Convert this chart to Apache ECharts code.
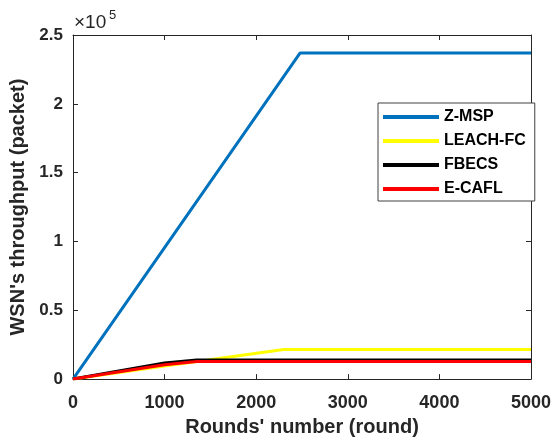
<!DOCTYPE html>
<html>
<head>
<meta charset="utf-8">
<script src="https://cdn.jsdelivr.net/npm/echarts@6/dist/echarts.min.js"></script>
<style>
  html, body { margin: 0; padding: 0; background: #fff; }
  #throughput-chart { width: 554px; height: 442px; }
</style>
</head>
<body>
<div id="throughput-chart"></div>
<script>
  // series names (legend order)
  var seriesNames = ['Z-MSP', 'LEACH-FC', 'FBECS', 'E-CAFL'];
  var seriesColors = ['#0072BD', '#FFFF00', '#000000', '#FF0000'];

  // breakpoints: rounds / throughput (packets)
  var zmspRounds = [0, 2480, 5000];
  var zmspValues = [0, 237000, 237000];
  var leachRounds = [0, 1000, 2300, 5000];
  var leachValues = [0, 9500, 21500, 21500];
  var fbecsRounds = [0, 1000, 1350, 5000];
  var fbecsValues = [0, 11700, 13800, 13800];
  var ecaflRounds = [0, 1000, 1350, 5000];
  var ecaflValues = [0, 10500, 12800, 12800];

  var xTickLabels = ['0', '1000', '2000', '3000', '4000', '5000'];
  var yTickLabels = ['0', '0.5', '1', '1.5', '2', '2.5'];

  var font = "'Liberation Sans', Arial, sans-serif";
  var axisColor = '#262626';

  function pairs(xs, ys) {
    return xs.map(function (x, i) { return [x, ys[i]]; });
  }

  var allData = [
    pairs(zmspRounds, zmspValues),
    pairs(leachRounds, leachValues),
    pairs(fbecsRounds, fbecsValues),
    pairs(ecaflRounds, ecaflValues)
  ];

  var chart = echarts.init(document.getElementById('throughput-chart'));

  var boxAxis = {
    min: 0,
    axisLine: { show: true, onZero: false, lineStyle: { color: axisColor, width: 1 } },
    axisTick: { show: true, inside: true, length: 5, lineStyle: { color: axisColor, width: 1 } },
    splitLine: { show: false }
  };

  var option = {
    animation: false,
    backgroundColor: '#fff',
    grid: { left: 73, right: 19, top: 35, bottom: 59 },
    graphic: [
      {
        type: 'text', left: 74, top: 13,
        style: { text: '×10', fontFamily: font, fontSize: 19, fill: axisColor }
      },
      {
        type: 'text', left: 109, top: 9,
        style: { text: '5', fontFamily: font, fontSize: 13, fill: axisColor }
      }
    ],
    legend: {
      orient: 'vertical',
      left: 378,
      top: 103,
      padding: [6, 9, 4, 5],
      itemGap: 8,
      itemWidth: 56,
      itemHeight: 4,
      icon: 'rect',
      borderColor: '#404040',
      borderWidth: 1,
      backgroundColor: '#fff',
      data: seriesNames,
      textStyle: { fontFamily: font, fontSize: 16, fontWeight: 'bold', color: '#000', lineHeight: 16 }
    },
    xAxis: [
      Object.assign({}, boxAxis, {
        type: 'value',
        max: 5000,
        interval: 1000,
        position: 'bottom',
        name: "Rounds' number (round)",
        nameLocation: 'middle',
        nameGap: 37,
        nameTextStyle: { fontFamily: font, fontSize: 20, fontWeight: 'bold', color: axisColor },
        axisLabel: {
          margin: 15, fontFamily: font, fontSize: 18, fontWeight: 'bold', color: axisColor,
          formatter: function (v, i) { return xTickLabels[i]; }
        }
      }),
      Object.assign({}, boxAxis, {
        type: 'value',
        max: 5000,
        interval: 1000,
        position: 'top',
        axisLabel: { show: false }
      })
    ],
    yAxis: [
      Object.assign({}, boxAxis, {
        type: 'value',
        max: 250000,
        interval: 50000,
        position: 'left',
        name: "WSN's throughput (packet)",
        nameLocation: 'middle',
        nameGap: 40,
        nameTextStyle: { fontFamily: font, fontSize: 20, fontWeight: 'bold', color: axisColor },
        axisLabel: {
          margin: 10, fontFamily: font, fontSize: 17, fontWeight: 'bold', color: axisColor,
          formatter: function (v, i) { return yTickLabels[i]; }
        }
      }),
      Object.assign({}, boxAxis, {
        type: 'value',
        max: 250000,
        interval: 50000,
        position: 'right',
        axisLabel: { show: false }
      })
    ],
    series: seriesNames.map(function (name, i) {
      return {
        name: name,
        type: 'line',
        xAxisIndex: 0,
        yAxisIndex: 0,
        data: allData[i],
        showSymbol: false,
        symbol: 'none',
        lineStyle: { width: 3, color: seriesColors[i] },
        itemStyle: { color: seriesColors[i] },
        z: 2 + i
      };
    })
  };

  chart.setOption(option);
</script>
</body>
</html>
